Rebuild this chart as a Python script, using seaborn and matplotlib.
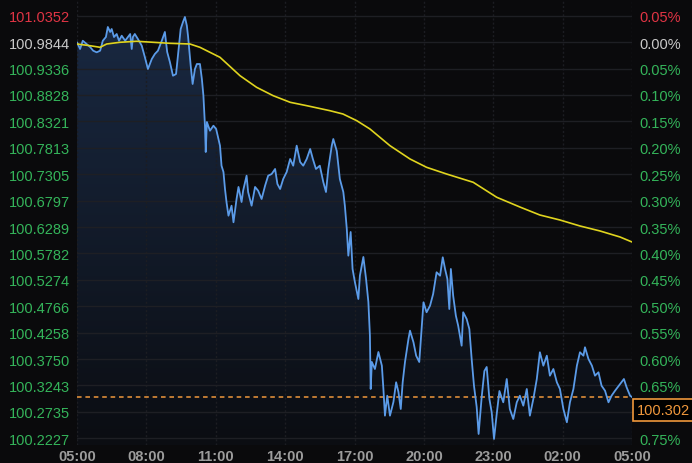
import numpy as np
import matplotlib
matplotlib.use("Agg")
import matplotlib.pyplot as plt
import seaborn as sns
import pandas as pd
from matplotlib.colors import LinearSegmentedColormap
from matplotlib.patches import Polygon, Rectangle

# minutes since 05:00 and last price
minutes = [0, 8, 15, 25, 34, 42, 51, 60, 67, 75, 80, 86, 90, 96, 103, 109, 116, 125, 132, 138,
           142, 145, 150, 158, 168, 176, 184, 194, 202, 210, 220, 228, 234, 241, 249, 257, 262, 269, 275, 280,
           285, 288, 295, 300, 306, 311, 319, 324, 328, 332, 334, 337, 345, 354, 361, 367, 371, 375, 380, 384,
           388, 393, 401, 406, 414, 419, 427, 431, 440, 444, 453, 462, 470, 479, 488, 496, 505, 514, 520, 527,
           535, 544, 553, 561, 570, 579, 587, 596, 605, 612, 620, 630, 639, 646, 652, 661, 665, 674, 682, 691,
           695, 700, 704, 710, 715, 721, 730, 734, 743, 750, 756, 760, 762, 765, 773, 782, 791, 795, 799, 805,
           812, 821, 828, 834, 840, 845, 851, 860, 864, 873, 880, 888, 894, 899, 907, 916, 924, 933, 942, 949,
           955, 961, 966, 970, 976, 983, 989, 998, 1002, 1011, 1018, 1024, 1030, 1037, 1042, 1050, 1057, 1063, 1070, 1076,
           1082, 1089, 1096, 1106, 1115, 1123, 1132, 1141, 1149, 1158, 1167, 1175, 1184, 1193, 1201, 1210, 1219, 1227, 1236, 1245,
           1253, 1262, 1271, 1279, 1288, 1297, 1305, 1314, 1318, 1327, 1336, 1344, 1353, 1361, 1370, 1379, 1387, 1396, 1409, 1419,
           1426, 1435, 1440]
price = [100.9841, 100.9712, 100.9871, 100.9808, 100.9750, 100.9679, 100.9648, 100.9679, 100.9871, 100.9942,
         101.0135, 101.0039, 101.0096, 100.9942, 101.0000, 100.9871, 100.9967, 100.9871, 100.9942, 101.0000,
         100.9712, 100.9942, 101.0000, 100.9904, 100.9775, 100.9558, 100.9327, 100.9519, 100.9616, 100.9679,
         100.9871, 101.0039, 100.9654, 100.9462, 100.9198, 100.9231, 100.9583, 101.0096, 101.0231, 101.0327,
         101.0160, 100.9967, 100.9391, 100.9039, 100.9327, 100.9423, 100.9423, 100.9135, 100.8814, 100.8237,
         100.7731, 100.8308, 100.8141, 100.8237, 100.8174, 100.7981, 100.7853, 100.7468, 100.7347, 100.7020,
         100.6764, 100.6507, 100.6699, 100.6380, 100.6828, 100.7059, 100.6770, 100.6987, 100.7276, 100.6962,
         100.6699, 100.7059, 100.6987, 100.6828, 100.7084, 100.7276, 100.7308, 100.7405, 100.7116, 100.7020,
         100.7212, 100.7347, 100.7597, 100.7468, 100.7853, 100.7539, 100.7468, 100.7597, 100.7789, 100.7597,
         100.7405, 100.7468, 100.7155, 100.6962, 100.7405, 100.7853, 100.7981, 100.7751, 100.7212, 100.6962,
         100.6699, 100.6251, 100.5738, 100.6193, 100.5482, 100.5232, 100.4905, 100.5353, 100.5713, 100.5290,
         100.4848, 100.4200, 100.3175, 100.3694, 100.3559, 100.3886, 100.3623, 100.3175, 100.2662, 100.3046,
         100.2662, 100.2925, 100.3304, 100.3117, 100.2790, 100.3304, 100.3694, 100.4136, 100.4296, 100.4073,
         100.3815, 100.3694, 100.4328, 100.4842, 100.4650, 100.4776, 100.5001, 100.5419, 100.5353, 100.5707,
         100.5482, 100.5290, 100.4713, 100.5482, 100.4969, 100.4584, 100.4392, 100.4007, 100.4650, 100.4521,
         100.4328, 100.3752, 100.3238, 100.2829, 100.2310, 100.3021, 100.3521, 100.3598, 100.2983, 100.2727,
         100.2214, 100.2694, 100.3136, 100.2919, 100.3367, 100.2790, 100.2598, 100.2919, 100.3046, 100.2854,
         100.3175, 100.2662, 100.2983, 100.3367, 100.3881, 100.3623, 100.3815, 100.3431, 100.3559, 100.3304,
         100.3175, 100.2790, 100.2535, 100.2919, 100.3175, 100.3623, 100.3881, 100.3815, 100.3977, 100.3752,
         100.3623, 100.3431, 100.3496, 100.3238, 100.3142, 100.2919, 100.3046, 100.3142, 100.3271, 100.3367,
         100.3208, 100.3046, 100.3020]

# moving average (yellow)
ma_minutes = [0, 34, 60, 77, 112, 155, 197, 241, 293, 319, 345, 371, 423, 466, 509, 553, 596, 656, 690, 726,
              760, 812, 864, 907, 959, 1028, 1089, 1149, 1201, 1253, 1305, 1357, 1409, 1440]
ma_price = [100.9808, 100.9775, 100.9744, 100.9808, 100.9841, 100.9860, 100.9841, 100.9821, 100.9808, 100.9744,
            100.9648, 100.9552, 100.9198, 100.8975, 100.8814, 100.8687, 100.8622, 100.8526, 100.8462, 100.8333,
            100.8174, 100.7853, 100.7597, 100.7437, 100.7308, 100.7149, 100.6861, 100.6674, 100.6520, 100.6424,
            100.6309, 100.6213, 100.6097, 100.6001]

last_price = 100.302
last_label = "100.302"

price_ticks = [101.0352, 100.9844, 100.9336, 100.8828, 100.8321, 100.7813, 100.7305, 100.6797, 100.6289,
               100.5782, 100.5274, 100.4766, 100.4258, 100.3750, 100.3243, 100.2735, 100.2227]
pct_labels = ["0.05%", "0.00%", "0.05%", "0.10%", "0.15%", "0.20%", "0.25%", "0.30%", "0.35%",
              "0.40%", "0.45%", "0.50%", "0.55%", "0.60%", "0.65%", "", "0.75%"]
time_ticks = [0, 180, 360, 540, 720, 900, 1080, 1260, 1440]
time_labels = ["05:00", "08:00", "11:00", "14:00", "17:00", "20:00", "23:00", "02:00", "05:00"]

BG = "#0a0a0c"
GRID = "#1e1f24"
UP = "#e03444"
FLAT = "#c9c9c9"
DOWN = "#34b45a"
ORANGE = "#f0983c"

sns.set_theme(style="dark", rc={
    "axes.facecolor": BG,
    "figure.facecolor": BG,
    "axes.edgecolor": BG,
    "grid.color": GRID,
})
plt.rcParams["font.family"] = ["Liberation Sans", "DejaVu Sans"]

fig = plt.figure(figsize=(6.92, 4.64), dpi=100)
ax = fig.add_axes([77 / 692, 1 - 446 / 464, 555 / 692, 446 / 464])
ylo, yhi = 100.2098, 101.0673

# gradient fill under the price line
cmap = LinearSegmentedColormap.from_list("fill", ["#0b0d12", "#1a2a44"])
grad = np.linspace(0, 1, 256).reshape(-1, 1)
im = ax.imshow(grad, extent=[0, 1440, ylo, yhi], origin="lower", aspect="auto",
               cmap=cmap, zorder=0.8)
verts = list(zip(minutes, price)) + [(1440, ylo), (0, ylo)]
clip = Polygon(verts, closed=True, facecolor="none", edgecolor="none", transform=ax.transData)
ax.add_patch(clip)
im.set_clip_path(clip)

df = pd.DataFrame({"minute": minutes, "price": price})
ma = pd.DataFrame({"minute": ma_minutes, "price": ma_price})
sns.lineplot(data=df, x="minute", y="price", ax=ax, color="#5b9be8", lw=1.3, zorder=3)
sns.lineplot(data=ma, x="minute", y="price", ax=ax, color="#e0d41e", lw=1.2, zorder=3)
ax.axhline(last_price, color=ORANGE, lw=1.1, ls=(0, (3, 2.5)), zorder=2.8)

ax.set_xlim(0, 1440)
ax.set_ylim(ylo, yhi)
ax.set_xlabel("")
ax.set_ylabel("")
ax.set_axisbelow("line")
ax.set_xticks(time_ticks)
ax.set_xticklabels(time_labels)
ax.set_yticks(price_ticks)
ax.set_yticklabels([f"{v:.4f}" for v in price_ticks])
ax.yaxis.grid(True, color=GRID, lw=1.0, ls="-")
ax.xaxis.grid(True, color="#1c1d22", lw=1.0, ls=(0, (1.5, 1.5)))
ax.tick_params(axis="both", length=0)
ax.tick_params(axis="y", pad=5, labelsize=10.5)
ax.tick_params(axis="x", pad=3, labelsize=10.5, colors="#9c9c9c")
for t in ax.get_xticklabels():
    t.set_fontweight("bold")
for spine in ax.spines.values():
    spine.set_visible(False)

ax2 = ax.twinx()
ax2.set_ylim(ylo, yhi)
ax2.set_yticks(price_ticks)
ax2.set_yticklabels(pct_labels)
ax2.grid(False)
ax2.tick_params(axis="y", length=0, pad=5, labelsize=10.5)
for spine in ax2.spines.values():
    spine.set_visible(False)

for labels in (ax.get_yticklabels(), ax2.get_yticklabels()):
    for i, t in enumerate(labels):
        t.set_color(UP if i == 0 else FLAT if i == 1 else DOWN)

# last price box on the right
box_top = 1 - 400 / 464
fig.patches.append(Rectangle((633 / 692, box_top - 22 / 464), 80 / 692, 22 / 464,
                             transform=fig.transFigure, facecolor="#000000",
                             edgecolor=ORANGE, lw=1.2, zorder=5))
fig.text(637 / 692, box_top - 11 / 464, last_label, color=ORANGE, fontsize=10.5,
         va="center", ha="left", zorder=6)

fig.savefig("out.png", dpi=100, facecolor=BG)
